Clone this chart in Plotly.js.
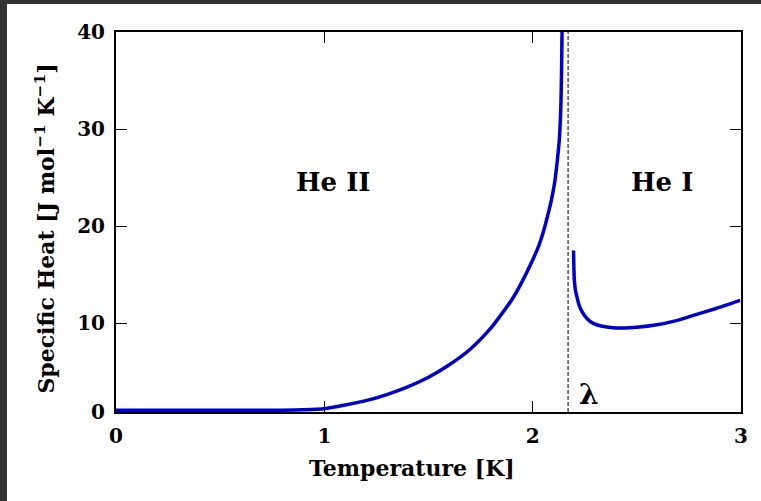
<!DOCTYPE html>
<html>
<head>
<meta charset="utf-8">
<script src="https://cdn.plot.ly/plotly-3.0.1.min.js"></script>
<style>
  html, body { margin: 0; padding: 0; background: #333333; width: 761px; height: 501px; overflow: hidden; }
  #chart { position: absolute; left: 7px; top: 4px; width: 754px; height: 497px; background: #ffffff; }
</style>
</head>
<body>
<div id="chart"></div>
<script>
// Specific heat of liquid helium-4 around the lambda transition
const heIITemp = [0.0, 0.5, 0.8, 0.9, 1.0, 1.1, 1.2, 1.3, 1.4, 1.5, 1.6, 1.7, 1.8, 1.85, 1.9, 1.95, 2.0, 2.03, 2.05, 2.07, 2.09, 2.105, 2.115, 2.122, 2.128, 2.133, 2.136, 2.139, 2.141];
const heIIHeat = [1.0, 1.0, 1.02, 1.06, 1.17, 1.55, 2.0, 2.63, 3.42, 4.41, 5.7, 7.3, 9.5, 10.9, 12.4, 14.3, 16.5, 18.0, 19.3, 20.9, 22.7, 24.4, 26.1, 27.5, 28.9, 31.0, 33.0, 36.5, 40.0];

const heITemp = [2.196, 2.198, 2.200, 2.205, 2.212, 2.222, 2.236, 2.255, 2.276, 2.31, 2.356, 2.40, 2.436, 2.50, 2.596, 2.68, 2.756, 2.88, 2.996];
const heIHeat = [17.48, 15.6, 14.46, 13.4, 12.74, 11.9, 11.2, 10.6, 10.16, 9.8, 9.59, 9.5, 9.48, 9.56, 9.82, 10.2, 10.68, 11.5, 12.33];

const lambdaTemp = 2.17;

const xTickVals = [0, 1, 2, 3];
const xTickText = ['0', '1', '2', '3'];
const yTickVals = [0.83, 10, 20, 30, 40];
const yTickText = ['0', '10', '20', '30', '40'];

const serif = 'DejaVu Serif, Liberation Serif, serif';
const curveColor = '#0000cc';

const curveLine = { color: curveColor, width: 3.5, shape: 'spline', smoothing: 0.6 };
const traces = [
  { x: heIITemp, y: heIIHeat, mode: 'lines', line: curveLine, hoverinfo: 'skip' },
  { x: heITemp, y: heIHeat, mode: 'lines', line: curveLine, hoverinfo: 'skip' }
];

const axisCommon = {
  showline: true, linecolor: '#000', linewidth: 2, mirror: 'ticks',
  ticks: 'inside', ticklen: 11, tickwidth: 1, tickcolor: '#000',
  showgrid: false, zeroline: false, tickmode: 'array',
  tickfont: { family: serif, size: 20, color: '#000', weight: 'bold' },
  ticklabelstandoff: 5
};

const layout = {
  width: 754, height: 497,
  margin: { l: 109, r: 20, t: 28, b: 89 },
  paper_bgcolor: '#ffffff', plot_bgcolor: '#ffffff',
  showlegend: false,
  xaxis: Object.assign({}, axisCommon, { range: [0, 3], tickvals: xTickVals, ticktext: xTickText }),
  yaxis: Object.assign({}, axisCommon, { range: [0.83, 40], tickvals: yTickVals, ticktext: yTickText }),
  shapes: [
    { type: 'line', xref: 'x', yref: 'paper', x0: lambdaTemp, x1: lambdaTemp, y0: 0, y1: 1,
      line: { color: '#000', width: 1, dash: '4px,2px' } }
  ],
  annotations: [
    { text: 'He II', x: 1.04, y: 24.5, xref: 'x', yref: 'y', showarrow: false,
      font: { family: serif, size: 26, color: '#000', weight: 'bold' } },
    { text: 'He I', x: 2.62, y: 24.5, xref: 'x', yref: 'y', showarrow: false,
      font: { family: serif, size: 26, color: '#000', weight: 'bold' } },
    { text: 'λ', x: 2.27, y: 2.6, xref: 'x', yref: 'y', showarrow: false,
      font: { family: serif, size: 28, color: '#000', weight: 'bold' } },
    { text: 'Temperature [K]', x: 0.474, y: -0.148, xref: 'paper', yref: 'paper',
      xanchor: 'center', yanchor: 'middle', showarrow: false,
      font: { family: serif, size: 22, color: '#000', weight: 'bold' } },
    { text: 'Specific Heat [J mol<sup>−1</sup> K<sup>−1</sup>]', x: -0.114, y: 0.482,
      xref: 'paper', yref: 'paper', xanchor: 'center', yanchor: 'middle', textangle: -90,
      showarrow: false, font: { family: serif, size: 22, color: '#000', weight: 'bold' } }
  ]
};

Plotly.newPlot('chart', traces, layout, { staticPlot: true, displayModeBar: false });
</script>
</body>
</html>
